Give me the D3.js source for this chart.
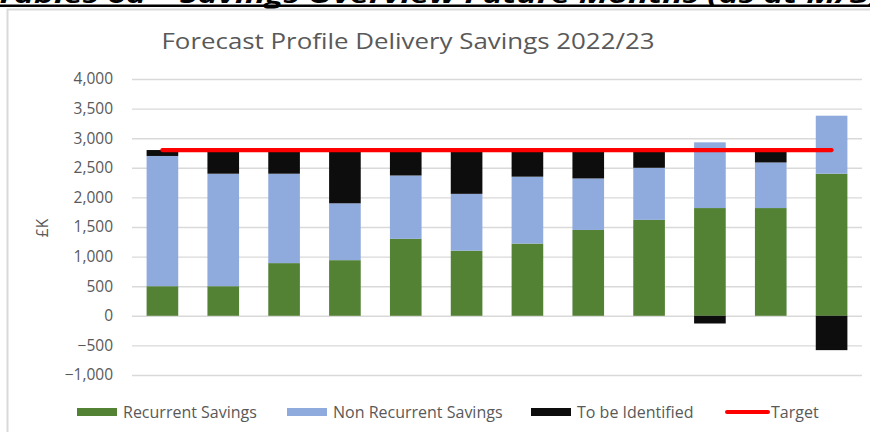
<!DOCTYPE html>
<html lang="en">
  <head>
    <meta charset="utf-8" />
    <title>Forecast Profile Delivery Savings 2022/23</title>
    <style>
      body {
        margin: 0;
        background: #fff;
      }
      text {
        font-family: "Open Sans", "Noto Sans", sans-serif;
        fill: #595959;
      }
      .axis .domain {
        display: none;
      }
      .axis line {
        stroke: #d9d9d9;
        stroke-width: 1.4px;
      }
    </style>
    <script src="https://d3js.org/d3.v7.min.js"></script>
  </head>

  <body>
    <svg width="870" height="432"></svg>

    <script>
      // months of the year (not shown on the chart)
      var months = ["Apr", "May", "Jun", "Jul", "Aug", "Sep", "Oct", "Nov", "Dec", "Jan", "Feb", "Mar"];
      var recurrent = [500, 500, 890, 940, 1300, 1100, 1220, 1450, 1620, 1820, 1820, 2400];
      var nonRecurrent = [2200, 1900, 1510, 960, 1070, 960, 1130, 870, 880, 1110, 770, 980];
      var toBeIdentified = [100, 400, 400, 900, 430, 740, 450, 480, 300, -130, 210, -580];
      var target = [2800, 2800, 2800, 2800, 2800, 2800, 2800, 2800, 2800, 2800, 2800, 2800];
      var yTicks = [-1000, -500, 0, 500, 1000, 1500, 2000, 2500, 3000, 3500, 4000];

      var seriesNames = ["Recurrent Savings", "Non Recurrent Savings", "To be Identified"];
      var colors = ["#548235", "#8faadc", "#0d0d0d"];

      var svg = d3.select("svg");

      // header text cut off at top of the page
      svg
        .append("text")
        .attr("x", -4)
        .attr("y", 3)
        .attr("font-family", "Liberation Sans, Arial, sans-serif")
        .attr("font-weight", "bold")
        .attr("font-style", "italic")
        .attr("font-size", 24)
        .style("fill", "#000")
        .attr("textLength", 884)
        .attr("lengthAdjust", "spacingAndGlyphs")
        .text("Tables 6a – Savings Overview Future Months (as at M/3)");
      svg.append("rect").attr("x", 0).attr("y", 4.5).attr("width", 870).attr("height", 2.5).attr("fill", "#000");

      // chart border (top and left edges visible)
      svg
        .append("path")
        .attr("d", "M7.5,432V9.5H870")
        .attr("fill", "none")
        .attr("stroke", "#d9d9d9")
        .attr("stroke-width", 2);

      // chart title
      svg
        .append("text")
        .attr("x", 408)
        .attr("y", 49)
        .attr("text-anchor", "middle")
        .attr("font-size", 22)
        .attr("textLength", 493)
        .attr("lengthAdjust", "spacingAndGlyphs")
        .text("Forecast Profile Delivery Savings 2022/23");

      var x = d3.scaleBand().domain(months).range([132, 862]).paddingInner(0.48).paddingOuter(0.24);
      var y = d3.scaleLinear().domain([-1000, 4000]).range([375, 79]);

      // gridlines and tick labels
      svg
        .append("g")
        .attr("class", "axis")
        .attr("transform", "translate(132,0)")
        .call(
          d3
            .axisLeft(y)
            .tickValues(yTicks)
            .tickSize(-(862 - 132))
            .tickPadding(19)
            .tickFormat(d3.format(","))
        )
        .selectAll("text")
        .attr("font-size", 15.5)
        .style("fill", "#595959");

      // y axis title
      svg
        .append("text")
        .attr("transform", "translate(48,228) rotate(-90)")
        .attr("text-anchor", "middle")
        .attr("font-size", 15.5)
        .text("£K");

      // stacked bars, negatives go below zero like Excel
      var rows = months.map((m, i) => ({
        month: m,
        rec: recurrent[i],
        non: nonRecurrent[i],
        tbi: toBeIdentified[i],
      }));
      var stacked = d3.stack().keys(["rec", "non", "tbi"]).offset(d3.stackOffsetDiverging)(rows);

      svg
        .append("g")
        .selectAll("g")
        .data(stacked)
        .enter()
        .append("g")
        .attr("fill", (d, i) => colors[i])
        .selectAll("rect")
        .data((d) => d)
        .enter()
        .append("rect")
        .attr("x", (d) => x(d.data.month))
        .attr("width", x.bandwidth())
        .attr("y", (d) => y(Math.max(d[0], d[1])))
        .attr("height", (d) => Math.abs(y(d[0]) - y(d[1])));

      // target line
      var line = d3
        .line()
        .x((d, i) => x(months[i]) + x.bandwidth() / 2)
        .y((d) => y(d));
      svg
        .append("path")
        .datum(target)
        .attr("d", line)
        .attr("fill", "none")
        .attr("stroke", "#ff0000")
        .attr("stroke-width", 4.3)
        .attr("stroke-linecap", "round");

      // legend
      var legendX = [77, 287, 531];
      var legend = svg.append("g");
      seriesNames.forEach((name, i) => {
        legend
          .append("rect")
          .attr("x", legendX[i])
          .attr("y", 408)
          .attr("width", 40)
          .attr("height", 8)
          .attr("fill", colors[i]);
        legend
          .append("text")
          .attr("x", legendX[i] + 46)
          .attr("y", 418)
          .attr("font-size", 16)
          .text(name);
      });
      legend
        .append("line")
        .attr("x1", 727)
        .attr("x2", 768)
        .attr("y1", 412)
        .attr("y2", 412)
        .attr("stroke", "#ff0000")
        .attr("stroke-width", 4)
        .attr("stroke-linecap", "round");
      legend.append("text").attr("x", 771).attr("y", 418).attr("font-size", 16).text("Target");
    </script>
  </body>
</html>
